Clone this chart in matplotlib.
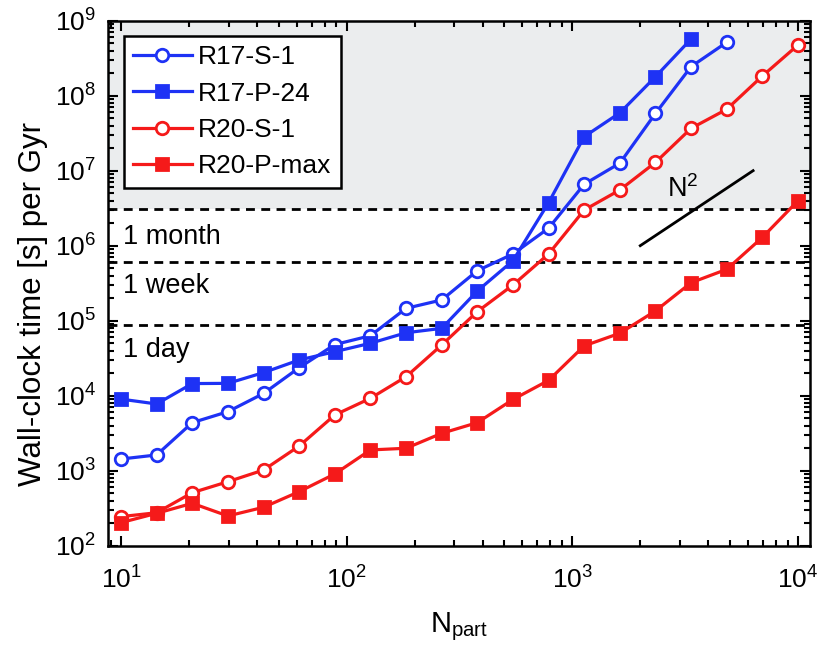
import matplotlib
matplotlib.use("Agg")
import matplotlib.pyplot as plt
from matplotlib.ticker import LogLocator, NullFormatter

plt.rcParams["font.family"] = ["Liberation Sans", "DejaVu Sans"]
plt.rcParams["mathtext.fontset"] = "custom"
plt.rcParams["mathtext.rm"] = "Liberation Sans"
plt.rcParams["mathtext.it"] = "Liberation Sans:italic"

# Number of particles (shared grid for all runs)
n_part = [10, 14.38, 20.69, 29.76, 42.81, 61.58, 88.58, 127.4, 183.3, 263.7,
          379.3, 545.6, 784.8, 1128.8, 1623.8, 2335.7, 3359.8, 4832.9,
          6951.9, 10000]

# Wall-clock time [s] per Gyr
r17_s1 = [1430, 1620, 4370, 6120, 10700, 23600, 48000, 63000, 146000, 189000,
          464000, 775000, 1.71e6, 6.6e6, 1.26e7, 5.8e7, 2.44e8, 5.15e8]
r17_p24 = [9000, 7750, 14500, 14600, 20300, 29900, 38600, 50000, 69000, 79000,
           249000, 631000, 3.74e6, 2.84e7, 5.9e7, 1.79e8, 5.7e8]
r20_s1 = [244, 275, 509, 713, 1020, 2130, 5530, 9230, 17900, 47400,
          132000, 299000, 775000, 2.99e6, 5.53e6, 1.29e7, 3.67e7, 6.59e7,
          1.83e8, 4.74e8]
r20_pmax = [203, 270, 367, 249, 325, 525, 904, 1890, 1990, 3150,
            4370, 8900, 16000, 46200, 68000, 135000, 321000, 484000,
            1.29e6, 3.98e6]

series_labels = ["R17-S-1", "R17-P-24", "R20-S-1", "R20-P-max"]

# Reference durations in seconds
t_day = 86400
t_week = 604800
t_month = 3.1e6
period_labels = ["1 day", "1 week", "1 month"]

# N^2 guide line
guide_x = [2000, 6325]
guide_y = [1e6, 1e6 * (6325 / 2000) ** 2]

blue = "#1e32f5"
red = "#f51a1a"

fig = plt.figure(figsize=(8.25, 6.46), dpi=100)
ax = fig.add_axes([0.1315, 0.1553, 0.8503, 0.8127])
ax.set_xscale("log")
ax.set_yscale("log")
ax.set_xlim(8.8, 11300)
ax.set_ylim(1e2, 1e9)

ax.axhspan(t_month, 1e9, color="#ebedee", zorder=0, lw=0)
for t in (t_day, t_week, t_month):
    ax.axhline(t, color="black", lw=2.0, linestyle=(0, (3.2, 2.3)), zorder=1)

label_y = [4.06e4, 2.9e5, 1.31e6]
for txt, yy in zip(period_labels, label_y):
    ax.text(10.2, yy, txt, fontsize=19.5, ha="left", va="center", zorder=2)

ax.plot(guide_x, guide_y, color="black", lw=2.0, zorder=2)
ax.text(3100, 5.6e6, r"$\mathregular{N^2}$", fontsize=19.5, ha="center",
        va="center", zorder=2)

mk = dict(lw=2.3, markersize=9, markeredgewidth=2.0, zorder=3)
ax.plot(n_part[:len(r17_s1)], r17_s1, "-o", color=blue, mfc="white",
        mec=blue, label=series_labels[0], **mk)
ax.plot(n_part[:len(r17_p24)], r17_p24, "-s", color=blue, mfc=blue,
        mec=blue, label=series_labels[1], **mk)
ax.plot(n_part[:len(r20_s1)], r20_s1, "-o", color=red, mfc="white",
        mec=red, label=series_labels[2], **mk)
ax.plot(n_part[:len(r20_pmax)], r20_pmax, "-s", color=red, mfc=red,
        mec=red, label=series_labels[3], **mk)

leg = ax.legend(loc="upper left", bbox_to_anchor=(0.0218, 0.9709),
                borderaxespad=0, fontsize=19, handlelength=2.22,
                handletextpad=0.25, labelspacing=0.47, borderpad=0.35,
                fancybox=False, framealpha=1, edgecolor="black")
leg.get_frame().set_linewidth(1.8)
leg.set_zorder(5)

ax.xaxis.set_major_locator(LogLocator(base=10, numticks=10))
ax.xaxis.set_minor_locator(LogLocator(base=10, subs=range(2, 10), numticks=20))
ax.xaxis.set_minor_formatter(NullFormatter())
ax.yaxis.set_major_locator(LogLocator(base=10, numticks=12))
ax.yaxis.set_minor_locator(LogLocator(base=10, subs=range(2, 10), numticks=20))
ax.yaxis.set_minor_formatter(NullFormatter())

ax.tick_params(which="both", direction="in", top=True, right=True,
               labelsize=19, width=1.5)
ax.tick_params(axis="x", which="both", pad=15)
ax.tick_params(axis="y", which="both", pad=9)
ax.tick_params(which="major", length=7)
ax.tick_params(which="minor", length=4)
for sp in ax.spines.values():
    sp.set_linewidth(1.8)

ax.set_xlabel(r"$\mathregular{N_{part}}$", fontsize=21, labelpad=12)
ax.set_ylabel("Wall-clock time [s] per Gyr", fontsize=22.5)
ax.yaxis.set_label_coords(-0.086, 0.46)

fig.savefig("out.png", dpi=100)
